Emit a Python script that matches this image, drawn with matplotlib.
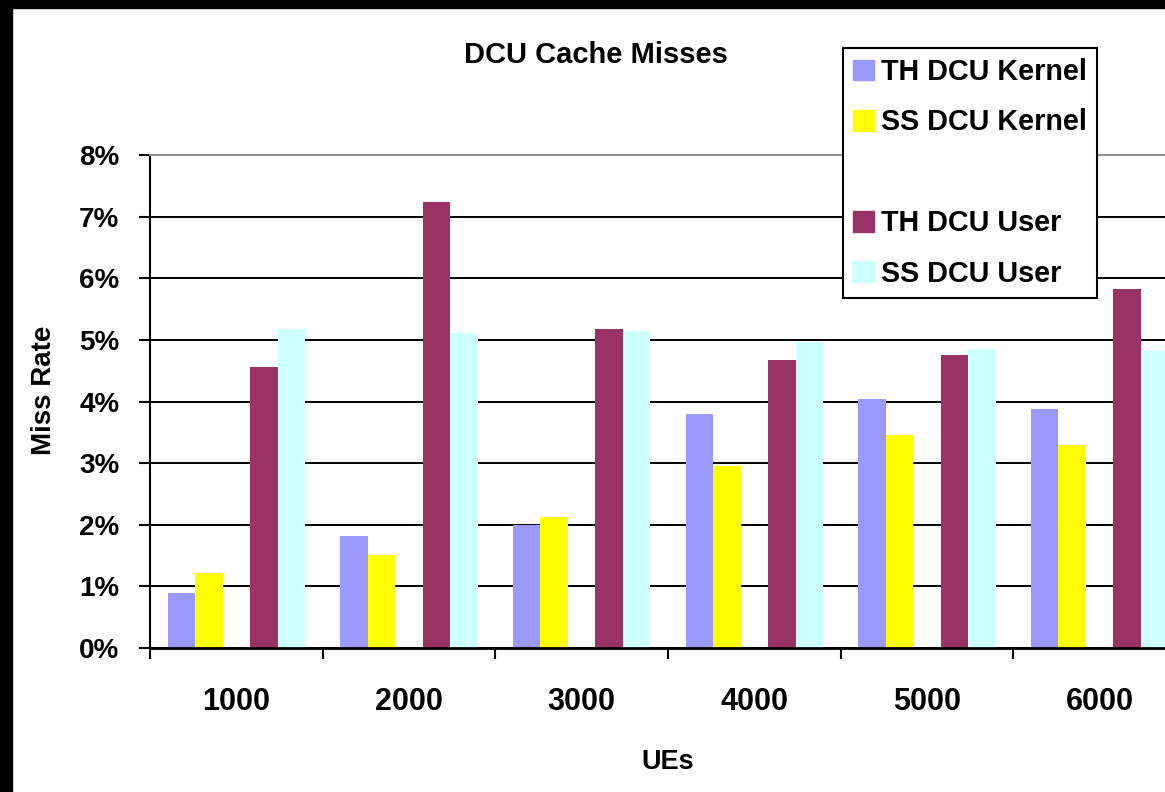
import matplotlib

matplotlib.use("Agg")
import matplotlib.pyplot as plt
import numpy as np
from matplotlib.patches import Patch, Rectangle
from matplotlib.ticker import FixedLocator, PercentFormatter

ues = ["1000", "2000", "3000", "4000", "5000", "6000"]
th_kernel = [0.89, 1.81, 2.00, 3.80, 4.04, 3.88]
ss_kernel = [1.21, 1.51, 2.13, 2.96, 3.45, 3.29]
th_user = [4.56, 7.23, 5.17, 4.68, 4.75, 5.82]
ss_user = [5.18, 5.11, 5.14, 4.97, 4.85, 4.82]

series = [
    ("TH DCU Kernel", th_kernel, "#9999ff", -2),
    ("SS DCU Kernel", ss_kernel, "#ffff00", -1),
    ("TH DCU User", th_user, "#993366", 1),
    ("SS DCU User", ss_user, "#ccffff", 2),
]

plt.rcParams["font.family"] = ["Liberation Sans", "DejaVu Sans"]
plt.rcParams["font.weight"] = "bold"

W, H = 1165, 792
fig = plt.figure(figsize=(W / 100, H / 100), dpi=100)
fig.patch.set_facecolor("white")

# axes runs past the right edge of the figure
ax = fig.add_axes([150 / W, 144 / H, 1036 / W, 493 / H])

x = np.arange(len(ues))
w = 0.159
for name, vals, col, slot in series:
    ax.bar(x + slot * w, vals, w, color=col, linewidth=0, label=name, zorder=2)

ax.set_xlim(-0.5, len(ues) - 0.5)
ax.set_ylim(0, 8)
ax.yaxis.set_major_locator(FixedLocator(range(0, 9)))
ax.yaxis.set_major_formatter(PercentFormatter(xmax=100, decimals=0))
ax.set_axisbelow(True)
ax.yaxis.grid(True, color="black", linewidth=1.4)
ax.yaxis.get_gridlines()[-1].set_color("#909090")

# ticks between groups, labels at group centres
ax.xaxis.set_major_locator(FixedLocator(np.arange(-0.5, len(ues), 1.0)))
ax.xaxis.set_major_formatter(plt.NullFormatter())
ax.xaxis.set_minor_locator(FixedLocator(x))
ax.set_xticklabels(ues, minor=True)
ax.tick_params(axis="x", which="major", length=8, width=1.5, direction="out")
ax.tick_params(axis="x", which="minor", length=0, pad=28, labelsize=22)
ax.tick_params(axis="y", length=8, width=1.5, direction="out", pad=14, labelsize=20)

ax.spines["right"].set_visible(False)
ax.spines["top"].set_color("#909090")
ax.spines["top"].set_linewidth(1.4)
ax.spines["left"].set_linewidth(1.5)
ax.spines["bottom"].set_linewidth(2)

fig.text(596 / W, 1 - 55 / H, "DCU Cache Misses", ha="center", va="center", fontsize=21, fontweight="bold")
fig.text(668 / W, 1 - 762 / H, "UEs", ha="center", va="center", fontsize=19.5, fontweight="bold")
fig.text(44 / W, 1 - 390 / H, "Miss Rate", ha="center", va="center", rotation=90, fontsize=20, fontweight="bold")

handles = [Patch(color=c) for _, _, c, _ in series]
labels = [n for n, _, _, _ in series]
blank = Patch(color="none")
handles.insert(2, blank)
labels.insert(2, " ")
leg = fig.legend(
    handles, labels,
    loc="upper left", bbox_to_anchor=(843 / W, 1 - 48 / H),
    frameon=True, fancybox=False, framealpha=1, edgecolor="black",
    fontsize=20.7, handlelength=0.73, handleheight=0.73, handletextpad=0.25,
    labelspacing=0.78, borderpad=0.35, borderaxespad=0,
)
leg.get_frame().set_linewidth(1.5)

# black border along the top and left edges
fig.patches.append(Rectangle((0, 0), 12 / W, 1, transform=fig.transFigure, color="black", zorder=10))
fig.patches.append(Rectangle((0, 1 - 8 / H), 1, 8 / H, transform=fig.transFigure, color="black", zorder=10))

fig.savefig("out.png", dpi=100)
